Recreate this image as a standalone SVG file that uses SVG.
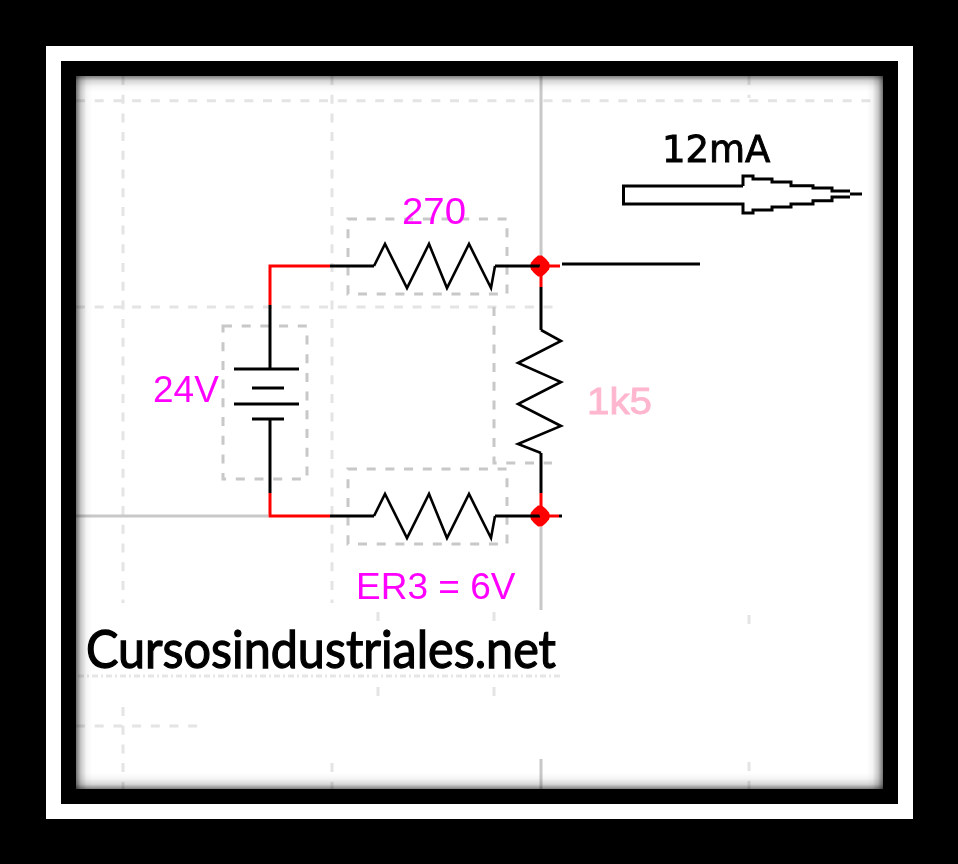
<svg xmlns="http://www.w3.org/2000/svg" width="958" height="864" viewBox="0 0 958 864">
<style>
.grid{fill:none;stroke:#e4e4e4;stroke-width:3;stroke-dasharray:9 9.7}
.fine{fill:none;stroke:#e6e6e6;stroke-width:3;stroke-dasharray:6 3 2 3}
.axis{fill:none;stroke:#c8c8c8;stroke-width:3}
.box{fill:none;stroke:#c8c8c8;stroke-width:3;stroke-dasharray:9 9.7}
.w{fill:none;stroke:#000;stroke-width:3;stroke-linejoin:miter}
.r{fill:none;stroke:#f00;stroke-width:3;stroke-linejoin:miter}
.z{fill:none;stroke:#000;stroke-width:2.600;stroke-linejoin:miter}
.j{fill:#f00}
.m{font-family:"Liberation Sans",Arial,sans-serif;font-size:37px;fill:#f0f;filter:url(#soft)}
.p{font-family:"Liberation Sans",Arial,sans-serif;font-size:37px;fill:#ffb6cf;stroke:#ffb6cf;stroke-width:.9;filter:url(#soft)}
.b{font-family:"DejaVu Sans",sans-serif;font-size:37px;fill:#000;stroke:#000;stroke-width:.9;filter:url(#soft)}
.l{font-family:Lato,"Liberation Sans",sans-serif;font-size:53px;font-weight:400;fill:#000;stroke:#000;stroke-width:1.300;filter:url(#soft)}
</style>
<defs>
<filter id="soft" x="-5%" y="-20%" width="110%" height="140%"><feGaussianBlur stdDeviation=".45"/></filter>
<linearGradient id="sl" x1="0" y1="0" x2="1" y2="0"><stop offset="0" stop-color="#000" stop-opacity=".55"/><stop offset=".3" stop-color="#000" stop-opacity=".22"/><stop offset=".65" stop-color="#000" stop-opacity=".04"/><stop offset="1" stop-color="#000" stop-opacity="0"/></linearGradient>
<linearGradient id="sr" x1="1" y1="0" x2="0" y2="0"><stop offset="0" stop-color="#000" stop-opacity=".55"/><stop offset=".3" stop-color="#000" stop-opacity=".22"/><stop offset=".65" stop-color="#000" stop-opacity=".04"/><stop offset="1" stop-color="#000" stop-opacity="0"/></linearGradient>
<linearGradient id="st" x1="0" y1="0" x2="0" y2="1"><stop offset="0" stop-color="#000" stop-opacity=".5"/><stop offset=".3" stop-color="#000" stop-opacity=".16"/><stop offset=".65" stop-color="#000" stop-opacity=".04"/><stop offset="1" stop-color="#000" stop-opacity="0"/></linearGradient>
<linearGradient id="sb" x1="0" y1="1" x2="0" y2="0"><stop offset="0" stop-color="#000" stop-opacity=".5"/><stop offset=".3" stop-color="#000" stop-opacity=".16"/><stop offset=".65" stop-color="#000" stop-opacity=".04"/><stop offset="1" stop-color="#000" stop-opacity="0"/></linearGradient>
<polygon id="jn" points="-2,-10.500 2,-10.500 6,-7 9,-3.500 10,0 9,3.500 6,7 2,10.500 -2,10.500 -6,7 -9,3.500 -10,0 -9,-3.500 -6,-7"/>
</defs>
<rect id="outer" width="958" height="864" fill="#000"/>
<rect x="46" y="46" width="867" height="773" fill="#fff"/>
<rect x="61" y="61" width="837" height="743" fill="#000"/>
<rect x="76" y="76" width="807" height="713" fill="#fff"/>
<g id="grid">
<path class="grid" d="M76 100.700H878"/>
<path class="grid" d="M76 307H561"/>
<path class="grid" d="M76 726H200"/>
<path class="fine" d="M78 676H562"/>
<path class="grid" d="M123 76V603M123 707V789"/>
<path class="grid" d="M332 76V603M332 763V789"/>
<path class="grid" d="M749 76V98M749 615V624M749 762V789"/>
<path class="grid" d="M378 612V621M378 687V696M494 612V621M494 687V696"/>
<path class="axis" d="M76 516H268M541 76V256M541 527V610M541 759V789"/>
</g>
<g id="battery">
<rect class="box" x="223" y="326" width="84" height="153"/>
<path class="w" d="M234 369H299M234 404H299M252 388H284M252 419H284"/>
<text class="m" x="153" y="402">24V</text>
</g>
<g id="r1">
<rect class="box" x="348" y="219" width="159" height="75"/>
<polyline class="z" points="374,266 385,244 407,288 429,244 447,288 469,244 491,288 495,266"/>
<text class="m" x="402" y="224" textLength="64" lengthAdjust="spacingAndGlyphs">270</text>
</g>
<g id="r2">
<rect class="box" x="348" y="469" width="159" height="75"/>
<polyline class="z" points="374,516 385,494 407,538 429,494 447,538 469,494 491,538 495,516"/>
<text class="m" x="356" y="599">ER3 = 6V</text>
</g>
<g id="r3">
<path class="box" d="M494 307V463H552"/>
<polyline class="z" points="541,330 561,341 518,363 561,382 518,404 561,426 518,444 541,453"/>
<text class="p" x="587" y="414" textLength="65" lengthAdjust="spacingAndGlyphs">1k5</text>
</g>
<g id="junction-top"><use href="#jn" class="j" x="540" y="266"/></g>
<g id="junction-bottom"><use href="#jn" class="j" x="540" y="516"/></g>
<g id="connectors">
<path class="r" d="M270 305V266H330"/>
<path class="w" d="M270 305V369"/>
<path class="w" d="M330 266H374"/>
<path class="w" d="M270 419V493"/>
<path class="r" d="M270 493V516H330"/>
<path class="w" d="M330 516H374"/>
<path class="w" d="M495 266H540"/>
<path class="w" d="M495 516H540"/>
<path class="r" d="M541 266H560M541 266V287"/>
<path class="r" d="M541 516H559M541 516V493"/>
<path class="w" d="M541 287V330M541 453V493"/>
<path class="w" d="M562 264H700M559 516H562"/>
</g>
<g id="current-arrow">
<path class="w" d="M743 186H623.500V204H743V213H753V210H772V207H791V204H813V200.700H832V197H850M850 191H832V188H813V185.700H791V182H772V179H753V176H743V186"/>
<path class="w" d="M850 194H862"/>
<text class="b" x="662" y="162">12mA</text>
</g>
<g id="site-label">
<text class="l" x="86" y="668" textLength="470" lengthAdjust="spacingAndGlyphs">Cursosindustriales.net</text>
</g>
<g id="inner-shadow">
<rect x="76" y="76" width="16" height="713" fill="url(#sl)"/>
<rect x="867" y="76" width="16" height="713" fill="url(#sr)"/>
<rect x="76" y="76" width="807" height="16" fill="url(#st)"/>
<rect x="76" y="773" width="807" height="16" fill="url(#sb)"/>
</g>
</svg>
